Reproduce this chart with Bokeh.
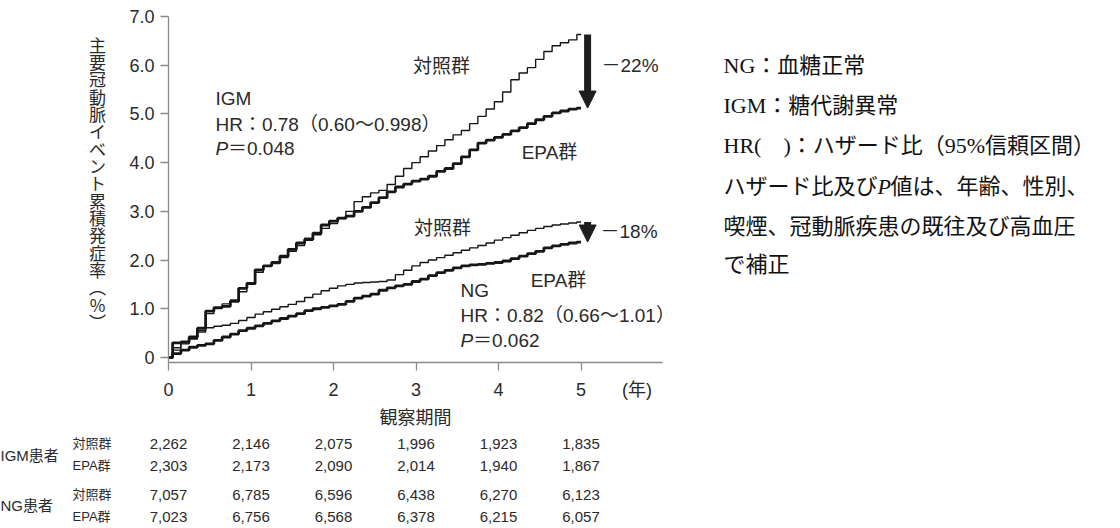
from bokeh.plotting import figure
from bokeh.layouts import column, row
from bokeh.models import (Range1d, FixedTicker, Label, LabelSet, ColumnDataSource,
                          Arrow, NormalHead)
from bokeh.core.properties import value
from bokeh.embed import file_html
from bokeh.resources import INLINE

# ---------------- data ----------------
t = [0.0, 0.1, 0.2, 0.3, 0.4, 0.5, 0.6, 0.7, 0.8, 0.9,
     1.0, 1.1, 1.2, 1.3, 1.4, 1.5, 1.6, 1.7, 1.8, 1.9,
     2.0, 2.1, 2.2, 2.3, 2.4, 2.5, 2.6, 2.7, 2.8, 2.9,
     3.0, 3.1, 3.2, 3.3, 3.4, 3.5, 3.6, 3.7, 3.8, 3.9,
     4.0, 4.1, 4.2, 4.3, 4.4, 4.5, 4.6, 4.7, 4.8, 4.9, 5.0]

igm_ctrl = [0.00, 0.20, 0.30, 0.38, 0.55, 0.90, 1.03, 1.10, 1.18, 1.35,
            1.50, 1.75, 1.88, 1.93, 2.05, 2.18, 2.30, 2.45, 2.52, 2.65,
            2.75, 2.85, 3.00, 3.20, 3.30, 3.38, 3.43, 3.55, 3.72, 3.88,
            4.00, 4.12, 4.24, 4.35, 4.47, 4.57, 4.66, 4.80, 4.95, 5.10,
            5.25, 5.45, 5.70, 5.84, 5.95, 6.12, 6.28, 6.40, 6.46, 6.52, 6.63]
igm_epa = [0.00, 0.30, 0.32, 0.42, 0.60, 0.95, 1.02, 1.05, 1.15, 1.42,
           1.52, 1.80, 1.88, 1.95, 2.08, 2.22, 2.35, 2.42, 2.55, 2.72,
           2.80, 2.86, 2.90, 3.00, 3.08, 3.18, 3.28, 3.40, 3.50, 3.56,
           3.62, 3.66, 3.72, 3.82, 3.88, 3.98, 4.12, 4.26, 4.40, 4.46,
           4.52, 4.58, 4.65, 4.72, 4.80, 4.88, 4.95, 5.02, 5.06, 5.10, 5.12]
ng_ctrl = [0.00, 0.15, 0.28, 0.40, 0.52, 0.61, 0.64, 0.66, 0.70, 0.76,
           0.82, 0.89, 0.94, 0.99, 1.04, 1.09, 1.15, 1.23, 1.30, 1.37,
           1.42, 1.47, 1.50, 1.53, 1.54, 1.55, 1.56, 1.59, 1.70, 1.79,
           1.88, 1.95, 2.00, 2.05, 2.10, 2.15, 2.20, 2.25, 2.30, 2.35,
           2.41, 2.46, 2.51, 2.56, 2.61, 2.65, 2.69, 2.72, 2.74, 2.76, 2.78]
ng_epa = [0.00, 0.08, 0.15, 0.21, 0.25, 0.28, 0.35, 0.42, 0.48, 0.55,
          0.60, 0.65, 0.70, 0.75, 0.80, 0.85, 0.90, 0.96, 1.00, 1.03,
          1.06, 1.09, 1.15, 1.22, 1.26, 1.30, 1.38, 1.43, 1.47, 1.50,
          1.56, 1.61, 1.68, 1.74, 1.79, 1.84, 1.88, 1.90, 1.91, 1.93,
          1.95, 1.98, 2.03, 2.08, 2.13, 2.18, 2.25, 2.29, 2.32, 2.35, 2.37]

x_ticks = [0, 1, 2, 3, 4, 5]
x_tick_labels = ["0", "1", "2", "3", "4", "5"]
x_unit_pos = 5.68
x_unit_label = "(年)"
y_ticks = [0, 1, 2, 3, 4, 5, 6, 7]
y_tick_labels = ["0", "1.0", "2.0", "3.0", "4.0", "5.0", "6.0", "7.0"]

table_years = [0, 1, 2, 3, 4, 5]
igm_ctrl_n = [2262, 2146, 2075, 1996, 1923, 1835]
igm_epa_n = [2303, 2173, 2090, 2014, 1940, 1867]
ng_ctrl_n = [7057, 6785, 6596, 6438, 6270, 6123]
ng_epa_n = [7023, 6756, 6568, 6378, 6215, 6057]

ylabel_text = "主要冠動脈イベント累積発症率︵%︶"
igm_text = ["IGM", "HR：0.78（0.60～0.998）", "0.048"]
ng_text = ["NG", "HR：0.82（0.66～1.01）", "0.062"]
reduction = ["－22%", "－18%"]
notes = ["NG：血糖正常", "IGM：糖代謝異常", "HR(　)：ハザード比（95%信頼区間）",
         None, "喫煙、冠動脈疾患の既往及び高血圧", "で補正"]

# ---------------- geometry (page pixels) ----------------
W, H = 1120, 528
TOP_H = 436                       # height of upper row
YF_W = 120                        # y-title panel width
MAIN_W = 580                      # main figure width
NOTE_W = W - YF_W - MAIN_W
F_LEFT, F_RIGHT, F_TOP, F_BOT = 168, 662, 16, 362   # frame edges (page px)
PX_X = 82.5
X0 = 0.0
X1 = (F_RIGHT - F_LEFT) / PX_X
PX_Y = 48.71
Y1 = 7.0
Y0 = Y1 - (F_BOT - F_TOP) / PX_Y


def dx(sx):
    return X0 + (sx - F_LEFT) / PX_X


def dy(sy):
    return Y1 - (sy - F_TOP) / PX_Y


SANS = "Liberation Sans, Noto Sans CJK JP"
CJK = "Noto Sans CJK JP"
SERIF = "Liberation Serif, Noto Sans CJK JP"
TXT = "#2a2a2a"
AX = "#8a8a8a"
INK = "#161616"


def blank(width, height, xr, yr, top=0, bottom=0):
    f = figure(width=width, height=height, x_range=xr, y_range=yr,
               x_axis_type=None, y_axis_type=None, output_backend="svg",
               toolbar_location=None, min_border=0, min_border_left=0,
               min_border_right=0, min_border_top=top, min_border_bottom=bottom)
    f.outline_line_color = None
    f.xgrid.visible = False
    f.ygrid.visible = False
    f.background_fill_color = "white"
    f.border_fill_color = "white"
    return f


def lab(fig, text, x, y, size=19, align="left", font=SANS, style="normal",
        color=TXT, xoff=0):
    fig.add_layout(Label(x=x, y=y, text=text, text_font=font,
                         text_font_size=f"{size}px", text_font_style=style,
                         text_color=color, text_align=align, text_baseline="middle",
                         x_offset=xoff))


# ---------------- main figure ----------------
p = figure(width=MAIN_W, height=TOP_H, x_range=Range1d(X0, X1), y_range=Range1d(Y0, Y1),
           output_backend="svg", toolbar_location=None,
           min_border_left=F_LEFT - YF_W, min_border_right=YF_W + MAIN_W - F_RIGHT,
           min_border_top=F_TOP, min_border_bottom=TOP_H - F_BOT)
p.outline_line_color = None
p.xgrid.visible = False
p.ygrid.visible = False
p.background_fill_color = "white"
p.border_fill_color = "white"

for ax in (p.xaxis, p.yaxis):
    ax.axis_line_color = AX
    ax.axis_line_width = 1.3
    ax.major_tick_line_color = AX
    ax.major_tick_line_width = 1.3
    ax.major_tick_out = 8
    ax.major_tick_in = 0
    ax.minor_tick_line_color = None
    ax.major_label_text_font = "Liberation Sans"
    ax.major_label_text_font_size = "18px"
    ax.major_label_text_color = TXT

# x axis: labels at major ticks (incl. the unit), visible marks as minor ticks
p.xaxis.ticker = FixedTicker(ticks=x_ticks + [x_unit_pos], minor_ticks=x_ticks)
p.xaxis.major_label_overrides = dict(zip(x_ticks + [x_unit_pos],
                                         x_tick_labels + [x_unit_label]))
p.xaxis.major_tick_line_color = None
p.xaxis.minor_tick_line_color = AX
p.xaxis.minor_tick_line_width = 1.3
p.xaxis.minor_tick_out = 8
p.xaxis.minor_tick_in = 0
p.xaxis.major_label_text_font = SANS
p.xaxis.major_label_standoff = 9
p.xaxis.axis_label = "観察期間"
p.xaxis.axis_label_text_font = CJK
p.xaxis.axis_label_text_font_size = "18px"
p.xaxis.axis_label_text_font_style = "normal"
p.xaxis.axis_label_text_color = TXT
p.xaxis.axis_label_standoff = 0

p.yaxis.ticker = FixedTicker(ticks=y_ticks)
p.yaxis.major_label_overrides = dict(zip(y_ticks, y_tick_labels))
p.yaxis.major_label_standoff = 6

# curves
p.step(t, igm_ctrl, mode="center", line_color=INK, line_width=1.4)
p.step(t, igm_epa, mode="center", line_color=INK, line_width=2.8)
p.step(t, ng_ctrl, mode="center", line_color=INK, line_width=1.4)
p.step(t, ng_epa, mode="center", line_color=INK, line_width=2.8)

# reduction arrows: from the control end value to the EPA end value
AXX = 5.08
for top, bot in ((igm_ctrl[-1], igm_epa[-1]), (ng_ctrl[-1], ng_epa[-1])):
    p.add_layout(Arrow(x_start=AXX, y_start=top, x_end=AXX, y_end=bot,
                       line_color="#1e1e1e", line_width=7,
                       end=NormalHead(size=17, fill_color="#1e1e1e",
                                      line_color="#1e1e1e", line_width=1)))

lab(p, "対照群", dx(441), dy(66), align="center")
lab(p, "EPA群", dx(549), dy(152), align="center")
lab(p, "対照群", dx(442), dy(228), align="center")
lab(p, "EPA群", dx(558), dy(280), align="center")
lab(p, reduction[0], dx(601), dy(65))
lab(p, reduction[1], dx(600), dy(231))

for (txt, sx, ys) in ((igm_text, 215, (98, 124, 148)), (ng_text, 460, (290, 315, 340))):
    lab(p, txt[0], dx(sx), dy(ys[0]))
    lab(p, txt[1], dx(sx), dy(ys[1]))
    lab(p, "P", dx(sx), dy(ys[2]), style="italic")
    lab(p, "＝" + txt[2], dx(sx), dy(ys[2]), xoff=12.5)

# ---------------- y-title panel (frame aligned with the main frame) ----------------
fy = blank(YF_W, TOP_H, Range1d(0, YF_W), Range1d(F_BOT, F_TOP),
           top=F_TOP, bottom=TOP_H - F_BOT)
chars = list(ylabel_text)
n = len(chars)
ysrc = ColumnDataSource(dict(x=[97] * n, y=[43.7 + i * 17.33 for i in range(n)], text=chars))
fy.add_layout(LabelSet(x="x", y="y", text="text", source=ysrc,
                       text_font=value(CJK), text_font_size="17px", text_color=TXT,
                       text_align="center", text_baseline="middle"))

# ---------------- notes panel ----------------
fn = blank(NOTE_W, TOP_H, Range1d(YF_W + MAIN_W, W), Range1d(F_BOT, F_TOP),
           top=F_TOP, bottom=TOP_H - F_BOT)
note_y = [65, 105, 145, 186, 226, 264]
NX = 723
for txt, sy in zip(notes, note_y):
    if txt is not None:
        lab(fn, txt, NX, sy, size=22, font=SERIF, color="#111111")
lab(fn, "ハザード比及び", NX, note_y[3], size=22, font=SERIF, color="#111111")
lab(fn, "P", NX, note_y[3], size=22, font="Liberation Serif", style="italic",
    color="#111111", xoff=154)
lab(fn, "値は、年齢、性別、", NX, note_y[3], size=22, font=SERIF, color="#111111", xoff=167)

# ---------------- number-at-risk table ----------------
TB_H = H - TOP_H
ft = blank(W, TB_H, Range1d(dx(0), dx(W)), Range1d(TB_H, 0))
rows = [(igm_ctrl_n, 443), (igm_epa_n, 465), (ng_ctrl_n, 494), (ng_epa_n, 516)]
xs, ys, ts = [], [], []
for vals, sy in rows:
    for yr, v in zip(table_years, vals):
        xs.append(yr)
        ys.append(sy - TOP_H)
        ts.append(f"{v:,}")
ft.add_layout(LabelSet(x="x", y="y", text="text",
                       source=ColumnDataSource(dict(x=xs, y=ys, text=ts)),
                       text_font=value("Liberation Sans"), text_font_size="15px",
                       text_color=TXT, text_align="center", text_baseline="middle"))
lab(ft, "IGM患者", dx(0), 455 - TOP_H, size=15)
lab(ft, "NG患者", dx(0), 505 - TOP_H, size=15)
for sy, name in ((443, "対照群"), (465, "EPA群"), (494, "対照群"), (516, "EPA群")):
    lab(ft, name, dx(72), sy - TOP_H, size=13)

layout = column(row(fy, p, fn), ft)
open("out.html", "w").write(file_html(layout, INLINE))
